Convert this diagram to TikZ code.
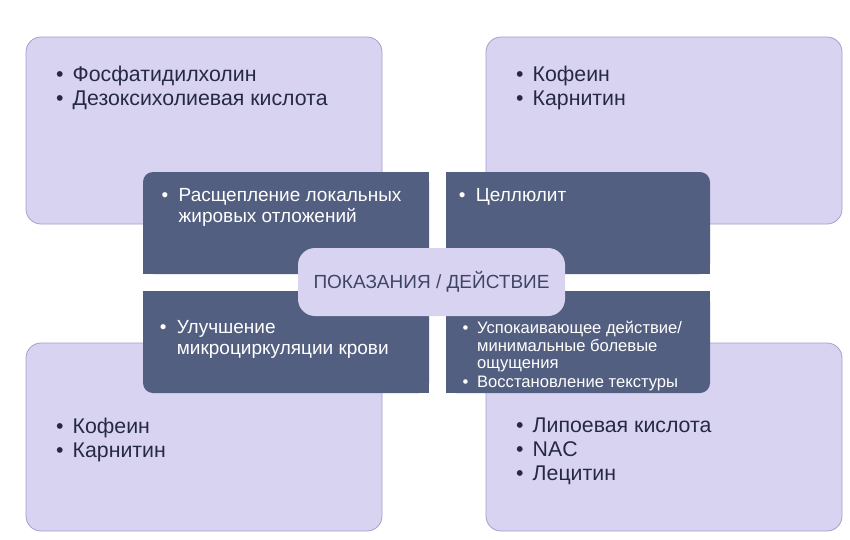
\documentclass[tikz,border=0pt]{standalone}
\usepackage{fontspec}
\setmainfont{Liberation Sans}

\definecolor{lavender}{RGB}{217,211,242}
\definecolor{lavenderline}{RGB}{165,160,205}
\definecolor{slate}{RGB}{83,95,128}
\definecolor{navytext}{RGB}{37,41,70}
\definecolor{titletext}{RGB}{62,69,102}

\tikzstyle{outerbox} = [draw=lavenderline,fill=lavender,line width=0.8pt,rounded corners=15pt]
\tikzstyle{innerbox} = [fill=slate]
\tikzstyle{centerbox} = [fill=lavender,rounded corners=17pt,minimum width=267pt,minimum height=68pt,inner sep=0pt]
\tikzstyle{outertext} = [anchor=north west,inner sep=0pt,align=left,text=navytext,font=\fontsize{21.3}{24}\selectfont]
\tikzstyle{innertext} = [anchor=north west,inner sep=0pt,align=left,text=white,font=\fontsize{19}{21}\selectfont]
\tikzstyle{smalltext} = [anchor=north west,inner sep=0pt,align=left,text=white,font=\fontsize{16.6}{17.6}\selectfont]

\newcommand{\itembul}[1][16.5pt]{\strut\makebox[#1][l]{•}}
\newcommand{\contline}[1][14.5pt]{\strut\hspace*{#1}}

\begin{document}
\begin{tikzpicture}[x=1pt,y=-1pt]
  \useasboundingbox (0,0) rectangle (850,539);
  \fill[white] (0,0) rectangle (850,539);

  % outer boxes
  \foreach \xa/\ya/\xb/\yb in {26/37/382/224, 486/37/842/224, 26/343/382/531, 486/343/842/531}
  {
    \draw[outerbox] (\xa,\ya) rectangle (\xb,\yb);
  }

  % dark quarters, one rounded corner each
  \foreach \cx/\cy/\ox/\oy/\rx/\ry in {
    143/172/429/274/153/182, 710/172/446/274/700/182,
    143/393/429/291/153/383, 710/393/446/291/700/383}
  {
    \fill[innerbox,rounded corners=10pt] (\cx,\cy) rectangle (\ox,\oy);
    \fill[innerbox] (\rx,\cy) rectangle (\ox,\oy);
    \fill[innerbox] (\cx,\ry) rectangle (\ox,\oy);
  }

  \node[centerbox,text=titletext,font=\fontsize{19}{21}\selectfont] (center) at (431.5,282) {ПОКАЗАНИЯ / ДЕЙСТВИЕ};

  %outer texts
  \node[outertext] (lipolysis) at (56,64.9) {\itembul Фосфатидилхолин\\\itembul Дезоксихолиевая кислота};
  \node[outertext] (cellulite) at (516,64.9) {\itembul Кофеин\\\itembul Карнитин};
  \node[outertext] (microcirc) at (56,416.5) {\itembul Кофеин\\\itembul Карнитин};
  \node[outertext] (soothing) at (516,415.5) {\itembul Липоевая кислота\\\itembul NAC\\\itembul Лецитин};

  %inner texts
  \node[innertext] (fatloss) at (161.5,186.8) {\itembul[17pt]Расщепление локальных\\\contline[17pt]жировых отложений};
  \node[innertext] (celluliteaction) at (458.7,186.8) {\itembul[17pt]Целлюлит};
  \node[innertext] (bloodflow) at (159.7,318.8) {\itembul[17pt]Улучшение\\\contline[17pt]микроциркуляции крови};
  \node[smalltext] (texture) at (462.4,321) {\itembul[14.5pt]Успокаивающее действие/\\\contline минимальные болевые\\\contline ощущения\\[1.5pt]\itembul[14.5pt]Восстановление текстуры};
\end{tikzpicture}
\end{document}
